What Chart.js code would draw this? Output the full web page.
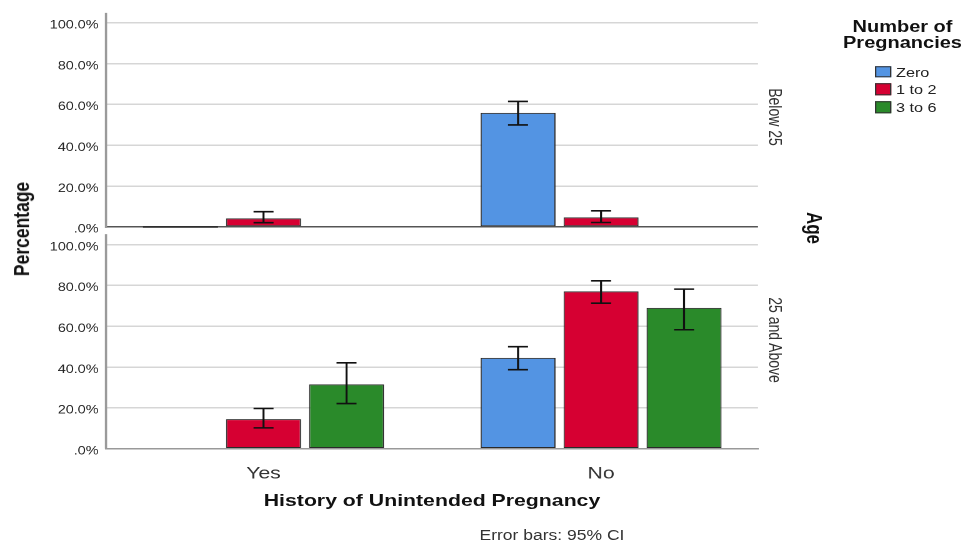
<!DOCTYPE html>
<html>
<head>
<meta charset="utf-8">
<script src="https://cdn.jsdelivr.net/npm/chart.js@4"></script>
<style>
html, body { margin: 0; padding: 0; background: #fff; overflow: hidden; }
#stage { position: absolute; left: 0; top: 0; width: 780px; height: 546px; transform: scaleX(1.25); transform-origin: 0 0; font-family: "Liberation Sans", Arial, sans-serif; color: #111; }
#wrap { position: absolute; left: 0; top: 0; width: 780px; height: 546px; }
.t { position: absolute; white-space: nowrap; line-height: 1; transform: translate(-50%, -50%); }
.b { font-weight: bold; }
.lg { position: absolute; white-space: nowrap; line-height: 1; transform: translateY(-50%); font-size: 13px; color: #222; }
.box { position: absolute; width: 13px; height: 11.5px; box-sizing: border-box; border: 1px solid #333; transform: translateY(-50%); }
</style>
</head>
<body>
<div id="stage">
  <div id="wrap"><canvas id="c"></canvas></div>
  <div class="t b" style="left:18px; top:229px; font-size:17.5px; transform:translate(-50%,-50%) rotate(-90deg);">Percentage</div>
  <div class="t b" style="left:651px; top:228px; font-size:17px; transform:translate(-50%,-50%) rotate(90deg);">Age</div>
  <div class="t" id="p0" style="left:620px; top:117px; font-size:14px; color:#333; transform:translate(-50%,-50%) rotate(90deg);"></div>
  <div class="t" id="p1" style="left:620px; top:340px; font-size:14px; color:#333; transform:translate(-50%,-50%) rotate(90deg);"></div>
  <div class="t b" style="left:345.6px; top:500px; font-size:17px;">History of Unintended Pregnancy</div>
  <div class="t" style="left:441.6px; top:535px; font-size:14px; color:#333;">Error bars: 95% CI</div>
  <div class="t b" style="left:722px; top:26.7px; font-size:16px;">Number of</div>
  <div class="t b" style="left:722px; top:43.4px; font-size:16px;">Pregnancies</div>
  <div id="legend"></div>
</div>
<script>
const categories = ['Yes', 'No'];
const seriesNames = ['Zero', '1 to 2', '3 to 6'];
const panelNames = ['Below 25', '25 and Above'];
const yTickValues = [0, 20, 40, 60, 80, 100];

// Age: Below 25  (mean %, 95% CI low, 95% CI high per category)
const below25Zero = [0, 55.9];
const below25ZeroLow = [null, 50.0];
const below25ZeroHigh = [null, 61.5];
const below25OneToTwo = [4.2, 4.7];
const below25OneToTwoLow = [2.1, 2.2];
const below25OneToTwoHigh = [7.5, 7.9];
const below25ThreeToSix = [null, null];
const below25ThreeToSixLow = [null, null];
const below25ThreeToSixHigh = [null, null];

// Age: 25 and Above
const above25Zero = [null, 44.5];
const above25ZeroLow = [null, 38.7];
const above25ZeroHigh = [null, 50.0];
const above25OneToTwo = [14.5, 77.1];
const above25OneToTwoLow = [10.2, 71.3];
const above25OneToTwoHigh = [19.7, 82.3];
const above25ThreeToSix = [31.5, 69.0];
const above25ThreeToSixLow = [22.1, 58.3];
const above25ThreeToSixHigh = [42.1, 78.2];

const colors = ['#5394e3', '#d60032', '#2a8a2a'];

document.getElementById('p0').textContent = panelNames[0];
document.getElementById('p1').textContent = panelNames[1];

const legendEl = document.getElementById('legend');
const legendRowY = [71.5, 89.4, 107.3];
seriesNames.forEach((name, i) => {
  const b = document.createElement('div');
  b.className = 'box';
  b.style.left = '700px';
  b.style.top = legendRowY[i] + 'px';
  b.style.background = colors[i];
  legendEl.appendChild(b);
  const t = document.createElement('div');
  t.className = 'lg';
  t.style.left = '716.8px';
  t.style.top = legendRowY[i] + 'px';
  t.textContent = name;
  legendEl.appendChild(t);
});

function makeSet(idx, axis, vals, lo, hi) {
  return {
    label: seriesNames[idx],
    stack: seriesNames[idx],
    yAxisID: axis,
    data: categories.map((c, i) => ({ x: i, y: vals[i] })),
    ciLow: lo,
    ciHigh: hi,
    backgroundColor: colors[idx],
    borderColor: '#2a2a2a',
    borderWidth: 1,
    borderSkipped: false,
    categoryPercentage: 0.7378,
    barPercentage: 0.9036
  };
}

const datasets = [
  makeSet(0, 'yTop', below25Zero, below25ZeroLow, below25ZeroHigh),
  makeSet(1, 'yTop', below25OneToTwo, below25OneToTwoLow, below25OneToTwoHigh),
  makeSet(2, 'yTop', below25ThreeToSix, below25ThreeToSixLow, below25ThreeToSixHigh),
  makeSet(0, 'yBottom', above25Zero, above25ZeroLow, above25ZeroHigh),
  makeSet(1, 'yBottom', above25OneToTwo, above25OneToTwoLow, above25OneToTwoHigh),
  makeSet(2, 'yBottom', above25ThreeToSix, above25ThreeToSixLow, above25ThreeToSixHigh)
];

const ciPlugin = {
  id: 'ciBars',
  afterDatasetsDraw(chart) {
    const ctx = chart.ctx;
    ctx.save();
    chart.data.datasets.forEach((ds, di) => {
      const meta = chart.getDatasetMeta(di);
      const ys = chart.scales[ds.yAxisID];
      meta.data.forEach((bar, i) => {
        const v = ds.data[i].y;
        if (v === null || v === undefined) return;
        if (v === 0) {
          ctx.strokeStyle = '#222';
          ctx.lineWidth = 1.5;
          ctx.beginPath();
          ctx.moveTo(bar.x - bar.width / 2, bar.y);
          ctx.lineTo(bar.x + bar.width / 2, bar.y);
          ctx.stroke();
        }
        const lo = ds.ciLow[i], hi = ds.ciHigh[i];
        if (lo === null || hi === null) return;
        const yl = ys.getPixelForValue(lo), yh = ys.getPixelForValue(hi);
        const cap = 8;
        ctx.strokeStyle = '#111';
        ctx.lineWidth = 1.6;
        ctx.beginPath();
        ctx.moveTo(bar.x, yl); ctx.lineTo(bar.x, yh);
        ctx.moveTo(bar.x - cap, yl); ctx.lineTo(bar.x + cap, yl);
        ctx.moveTo(bar.x - cap, yh); ctx.lineTo(bar.x + cap, yh);
        ctx.stroke();
      });
    });
    ctx.restore();
  }
};

const panelAxes = {
  id: 'panelAxes',
  beforeDatasetsDraw(chart) {
    const { ctx, chartArea } = chart;
    const yT = chart.scales.yTop, yB = chart.scales.yBottom;
    ctx.save();
    ctx.strokeStyle = '#9a9a9a';
    ctx.lineWidth = 1.8;
    ctx.beginPath();
    ctx.moveTo(chartArea.left, yT.top);
    ctx.lineTo(chartArea.left, yT.getPixelForValue(0) + 1);
    ctx.moveTo(chartArea.left, yB.top + 3.3);
    ctx.lineTo(chartArea.left, yB.bottom);
    ctx.stroke();
    ctx.restore();
  }
};

const fmt = v => (v === 0 ? '.0%' : v.toFixed(1) + '%');

function yAxis(min, max, zeroColor) {
  return {
    type: 'linear',
    position: 'left',
    stack: 'age',
    stackWeight: 1,
    stacked: false,
    min: min,
    max: max,
    afterBuildTicks: s => { s.ticks = yTickValues.map(v => ({ value: v })); },
    afterFit: s => { s.width = 84.8; },
    border: { display: false },
    grid: {
      drawTicks: false,
      lineWidth: 1.5,
      color: c => (c.tick && c.tick.value === 0 ? zeroColor : '#d6d6d6')
    },
    ticks: {
      callback: fmt,
      color: '#222',
      font: { size: 11.5 },
      padding: 6,
      labelOffset: 2.5
    }
  };
}

Chart.defaults.font.family = '"Liberation Sans", Arial, sans-serif';

new Chart(document.getElementById('c'), {
  type: 'bar',
  data: { datasets },
  options: {
    responsive: true,
    maintainAspectRatio: false,
    animation: false,
    devicePixelRatio: 2,
    layout: { padding: { left: 0, right: 780 - 606.4, top: 10, bottom: 0 } },
    plugins: { legend: { display: false }, tooltip: { enabled: false } },
    scales: {
      x: {
        type: 'linear',
        offset: false,
        min: -0.4667,
        max: 1.465,
        grid: { display: false, offset: false },
        border: { display: true, color: '#999', width: 1.5 },
        afterBuildTicks: s => { s.ticks = categories.map((c, i) => ({ value: i })); },
        afterFit: s => { s.height = 97.3; },
        ticks: {
          callback: v => categories[v],
          color: '#333',
          font: { size: 17 },
          padding: 7,
          maxRotation: 0,
          autoSkip: false
        }
      },
      yBottom: yAxis(0, 106.79, '#999'),
      yTop: yAxis(-1.87, 104.87, '#555')
    }
  },
  plugins: [panelAxes, ciPlugin]
});
</script>
</body>
</html>
